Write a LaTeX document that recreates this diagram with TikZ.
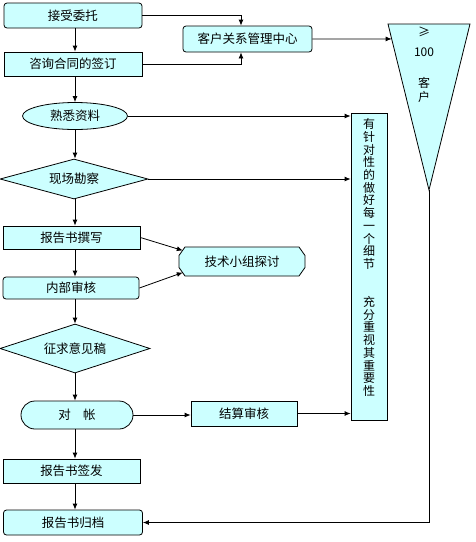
\documentclass[tikz,border=0pt]{standalone}
\usepackage{fontspec}
\setmainfont{Noto Sans CJK SC}
\usetikzlibrary{shapes.geometric,shapes.misc,arrows.meta,calc}
\definecolor{boxfill}{HTML}{CCFFFF}
\begin{document}
\begin{tikzpicture}[x=1pt,y=-1pt,
  base/.style={draw=black,fill=boxfill,line width=0.8pt,inner sep=0pt,font=\fontsize{12.5}{14}\selectfont},
  rbox/.style={base,rectangle,rounded corners=3pt},
  sbox/.style={base,rectangle},
  ell/.style={base,ellipse},
  dia/.style={base,diamond},
  stad/.style={base,rounded rectangle},
  outline/.style={draw=black,fill=boxfill,line width=0.8pt},
  arr/.style={line width=0.8pt,-{Latex[length=6pt,width=5pt]}},
  ln/.style={line width=0.8pt}]
\useasboundingbox (0,0) rectangle (476,542);
\coordinate (mx) at (75,0);
% main column
\node[rbox,minimum width=138pt,minimum height=25pt] (a1) at (73,15.5) {接受委托};
\node[sbox,minimum width=138pt,minimum height=24pt] (a2) at (73,64) {咨询合同的签订};
\node[ell,minimum width=105pt,minimum height=27pt] (a3) at (75,116) {熟悉资料};
\node[dia,aspect=3.7,minimum width=148pt,minimum height=40pt] (a4) at (74,179) {现场勘察};
\node[sbox,minimum width=137pt,minimum height=23pt] (a5) at (71.5,237.5) {报告书撰写};
\node[rbox,minimum width=136pt,minimum height=22pt] (a6) at (71,288) {内部审核};
\node[dia,aspect=3.06,minimum width=150pt,minimum height=49pt] (a7) at (75,348.5) {征求意见稿};
\node[stad,minimum width=112pt,minimum height=28pt] (a8) at (77,415) {对　帐};
\node[sbox,minimum width=137pt,minimum height=24pt] (a9) at (71.5,471) {报告书签发};
\node[rbox,minimum width=139pt,minimum height=25pt] (a10) at (73,522.5) {报告书归档};
% side nodes
\node[rbox,minimum width=129pt,minimum height=26pt] (c1) at (247.5,39) {客户关系管理中心};
% octagon (technical group)
\draw[outline] (185,247) -- (299,247) -- (305,255.5) -- (305,267.5) -- (299,276)
  -- (185,276) -- (179,267.5) -- (179,255.5) -- cycle;
\node[font=\fontsize{12.5}{14}\selectfont,inner sep=0pt,minimum width=126pt,minimum height=29pt] (t) at (242,261.5) {技术小组探讨};
\node[sbox,minimum width=106pt,minimum height=25pt] (s) at (244,413.5) {结算审核};
\node[sbox,minimum width=36pt,minimum height=307pt] (v) at (369,266.5) {};
\node[font=\fontsize{12}{12.7}\selectfont,align=center,inner sep=0pt] (vt) at (369,257.5)
  {有\\针\\对\\性\\的\\做\\好\\每\\一\\个\\细\\节\\~\\~\\充\\分\\重\\视\\其\\重\\要\\性};
% triangle
\draw[outline] (388,24) coordinate (tl) -- (470,24) coordinate (tr) -- (429,190) coordinate (apex) -- cycle;
\coordinate (tin) at ($(tl)!0.09!(apex)$);
\node[font=\fontsize{12}{14}\selectfont,align=center,inner sep=0pt] (tt) at (424,65)
  {≥\\[6pt]100\\[17pt]客\\户};
% connectors main column
\draw[arr] (a1.south -| mx) -- (a2.north -| mx);
\draw[arr] (a2.south -| mx) -- (a3.north -| mx);
\draw[arr] (a3.south -| mx) -- (a4.north -| mx);
\draw[arr] (a4.south -| mx) -- (a5.north -| mx);
\draw[arr] (a5.south -| mx) -- (a6.north -| mx);
\draw[arr] (a6.south -| mx) -- (a7.north -| mx);
\draw[arr] (a7.south -| mx) -- (a8.north -| mx);
\draw[arr] (a8.south -| mx) -- (a9.north -| mx);
\draw[arr] (a9.south -| mx) -- (a10.north -| mx);
% side connectors
\draw[arr] (a1.east) -| ($(c1.north)+(-6.5,0)$);
\draw[arr] (a2.east) -| ($(c1.south)+(-6.5,0)$);
\draw[arr] (c1.east) -- (tin);
\draw[arr] (a3.east) -- (a3.east -| v.west);
\draw[arr] (a4.east) -- (a4.east -| v.west);
\draw[arr] (a5.east) -- ($(t.west)+(4,-11)$);
\draw[arr] (a6.east) -- ($(t.west)+(4,11)$);
\draw[arr] (a8.east) -- (a8.east -| s.west);
\draw[arr] (s.east) -- (s.east -| v.west);
\draw[arr] (apex) |- (a10.east);
\end{tikzpicture}
\end{document}
